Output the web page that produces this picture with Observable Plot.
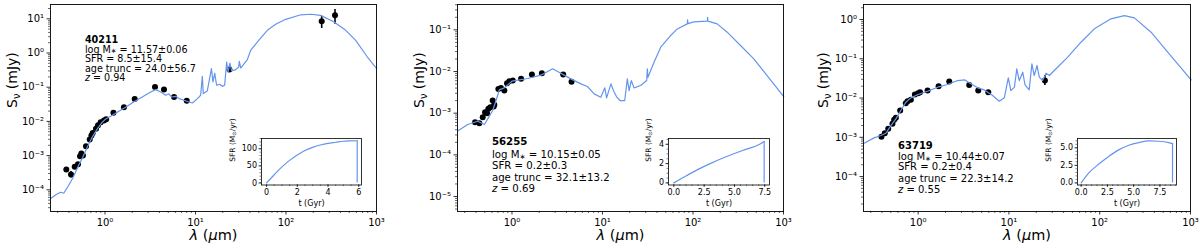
<!DOCTYPE html>
<html><head><meta charset="utf-8">
<script src="https://cdn.jsdelivr.net/npm/d3@7"></script>
<script src="https://cdn.jsdelivr.net/npm/@observablehq/plot@0.6"></script>
<style>
html,body{margin:0;padding:0;background:#fff;}
#wrap{position:relative;width:1200px;height:248px;overflow:hidden;font-family:"DejaVu Sans",sans-serif;}
#wrap svg{position:absolute;overflow:visible;}
</style></head><body><div id="wrap"></div>
<script>
// ---------------- DATA ----------------
// Panel 1 : source 40211  (model SED: wavelength [um], flux [mJy])
const p1ModelLam  = [0.251,0.292,0.324,0.350,0.387,0.440,0.499,0.568,0.644,0.731,0.830,0.920,1.0,1.156,1.38,1.69,2.07,2.55,3.20,3.63,4.13,4.69,5.06,5.46,6.04,6.58,7.46,8.47,9.25,10.5,11.4,11.9,12.2,13.5,15.0,15.6,16.3,17.1,18.5,19.8,21.0,22.1,22.9,24.0,25.1,27.8,30.0,30.5,31.6,37.4,40.7,49.9,62.2,76.9,99.3,146,187,242,340,457,589,793,1005];
const p1ModelFlux = [5.53e-5,7.41e-5,8.51e-5,7.94e-5,1.21e-4,2.17e-4,4.55e-4,8.91e-4,1.87e-3,3.66e-3,6.28e-3,9.10e-3,1.13e-2,1.41e-2,1.88e-2,2.58e-2,3.69e-2,5.07e-2,7.24e-2,8.51e-2,7.24e-2,5.79e-2,6.41e-2,5.16e-2,5.42e-2,4.65e-2,4.14e-2,3.69e-2,3.45e-2,4.65e-2,5.8e-2,0.208,6.5e-2,7.74e-2,0.35,0.142,0.26,0.114,0.122,0.106,0.114,0.546,0.278,0.51,0.298,0.327,0.39,0.571,0.364,0.641,1.2,2.35,4.61,6.90,9.66,13.1,13.6,12.6,8.05,4.61,2.35,0.764,0.35];
const p1ObsLam  = [0.374,0.421,0.463,0.503,0.530,0.548,0.571,0.617,0.678,0.708,0.731,0.796,0.838,0.896,0.975,1.03,1.24,1.62,2.13,3.57,4.49,5.8,8.0,23.7,248,348];
const p1ObsFlux = [3.9e-4,2.8e-4,4.7e-4,5.6e-4,9.5e-4,1.15e-3,1.0e-3,1.87e-3,2.94e-3,3.9e-3,4.6e-3,6.1e-3,7.7e-3,9.4e-3,1.07e-2,1.15e-2,1.8e-2,2.6e-2,4.5e-2,0.101,0.085,0.052,0.04,0.33,8.45,12.6];
const p1ErrLam = [0.421,248,348];
const p1ErrLo  = [2.2e-4,5.2,6.9];
const p1ErrHi  = [3.4e-4,11.8,18.6];
const p1Info = ["40211","log M* = 11.57±0.06","SFR = 8.5±15.4","age trunc = 24.0±56.7","z = 0.94"];
const p1Ticks = [1e-4,1e-3,1e-2,1e-1,1,10];

// Panel 2 : source 56255
const p2ModelLam  = [0.256,0.324,0.418,0.495,0.548,0.612,0.667,0.724,0.822,1.0,1.49,2.09,2.81,3.47,4.47,5.77,6.82,8.09,9.57,10.6,11.1,12.4,13.2,14.4,15.6,17.6,18.8,19.7,20.8,22.3,26.4,30.8,31.3,31.8,37.1,44.0,56.6,67.1,86.5,87.1,88.1,102,144,145,146,185,239,335,470,659,1007];
const p2ModelFlux = [3.83e-4,5.33e-4,6.41e-4,5.33e-4,7.71e-4,1.16e-3,2.01e-3,3.62e-3,4.05e-3,5.85e-3,6.78e-3,8.15e-3,1.16e-2,9.1e-3,6.65e-3,5.05e-3,4.36e-3,2.9e-3,2.42e-3,4.05e-3,2.33e-3,5.05e-3,3.49e-3,2.42e-3,2.01e-3,2.01e-3,6.65e-3,3.49e-3,6.07e-3,4.05e-3,4.6e-3,6.07e-3,1.16e-2,7.3e-3,1.67e-2,3.83e-2,7.29e-2,0.105,0.139,0.174,0.141,0.155,0.161,0.2,0.161,0.139,8.77e-2,4.2e-2,2.01e-2,8.0e-3,2.51e-3];
const p2ObsLam  = [0.391,0.436,0.475,0.504,0.530,0.548,0.577,0.628,0.612,0.638,0.707,0.756,0.823,0.881,0.935,1.02,1.26,1.66,2.14,3.68,4.55];
const p2ObsFlux = [6.07e-4,5.7e-4,8.0e-4,1.05e-3,1.0e-3,1.27e-3,1.39e-3,1.44e-3,2.0e-3,1.6e-3,3.8e-3,4.0e-3,3.5e-3,5.2e-3,5.8e-3,6.1e-3,6.7e-3,8.5e-3,9.1e-3,8.5e-3,5.7e-3];
const p2ErrLam = [];
const p2ErrLo  = [];
const p2ErrHi  = [];
const p2Info = ["56255","log M* = 10.15±0.05","SFR = 0.2±0.3","age trunc = 32.1±13.2","z = 0.69"];
const p2Ticks = [1e-5,1e-4,1e-3,1e-2,1e-1];

// Panel 3 : source 63719
const p3ModelLam  = [0.254,0.327,0.388,0.441,0.5,0.568,0.644,0.731,0.832,1.0,1.27,1.64,2.11,2.72,3.27,3.81,4.52,5.35,6.61,7.82,8.89,9.84,10.5,11.5,12.2,13.0,14.2,15.0,16.7,17.9,19.0,20.4,21.6,23.5,25.6,27.9,31.6,44.4,62.2,87.3,133,187,241,368,561,1016];
const p3ModelFlux = [7.06e-4,9.66e-4,1.11e-3,1.27e-3,1.99e-3,2.94e-3,4.81e-3,7.83e-3,1.01e-2,1.23e-2,1.49e-2,1.89e-2,2.21e-2,2.79e-2,2.9e-2,2.3e-2,1.82e-2,1.61e-2,1.16e-2,8.3e-3,1.01e-2,3.27e-2,1.55e-2,1.89e-2,5.53e-2,2.79e-2,4.55e-2,2.21e-2,1.61e-2,7.41e-2,3.74e-2,6.73e-2,3.4e-2,2.79e-2,4.3e-2,3.74e-2,5.02e-2,0.11,0.264,0.578,1.04,1.26,1.10,0.475,0.147,2.9e-2];
const p3ObsLam  = [0.394,0.429,0.468,0.521,0.544,0.568,0.634,0.731,0.764,0.831,0.920,1.0,1.05,1.27,1.68,2.2,3.65,4.59,5.92,24.9];
const p3ObsFlux = [1.04e-3,1.27e-3,1.64e-3,2.2e-3,2.78e-3,3.13e-3,4.8e-3,7.4e-3,8.3e-3,9.0e-3,1.23e-2,1.33e-2,1.41e-2,1.55e-2,2.0e-2,2.63e-2,2.16e-2,1.55e-2,1.41e-2,2.79e-2];
const p3ErrLam = [24.9];
const p3ErrLo  = [2.09e-2];
const p3ErrHi  = [3.74e-2];
const p3Info = ["63719","log M* = 10.44±0.07","SFR = 0.2±0.4","age trunc = 22.3±14.2","z = 0.55"];
const p3Ticks = [1e-4,1e-3,1e-2,1e-1,1];

const xTicks = [1,10,100,1000];

// Insets: star-formation histories (t [Gyr], SFR [Msun/yr])
const sfh1T   = [0,0.5,1,1.5,2,2.5,3,3.5,4,4.5,5,5.5,5.9];
const sfh1SFR = [0,24,47,66,82,95,104,111,116,119,122,123,123.5];
const sfh1XTicks = [0,2,4,6];
const sfh1YTicks = [0,50,100];
const sfh2T   = [0,1,2,3,4,5,6,7,7.45];
const sfh2SFR = [0,0.72,1.4,2.0,2.55,3.05,3.5,3.95,4.3];
const sfh2XTicks = [0,2.5,5,7.5];
const sfh2YTicks = [0,2,4];
const sfh3T   = [0,0.73,1.68,2.63,3.58,4.54,5.49,6.44,7.39,8.35,8.7];
const sfh3SFR = [0,1.42,2.69,3.77,4.71,5.37,5.75,5.98,5.94,5.75,5.61];
const sfh3XTicks = [0,2.5,5,7.5];
const sfh3YTicks = [0,2.5,5];

// ---------------- RENDER ----------------
const BLUE = "#6495ed";
const FONT = "'DejaVu Sans', sans-serif";
const SUP = {"-":"⁻","0":"⁰","1":"¹","2":"²","3":"³","4":"⁴","5":"⁵","6":"⁶","7":"⁷","8":"⁸","9":"⁹"};
const pow10 = d => "10" + String(Math.round(Math.log10(d))).split("").map(c => SUP[c]).join("");
const wrap = document.getElementById("wrap");

function logMinor(lo, hi) {
  const out = [];
  for (let k = Math.floor(Math.log10(lo)); k <= Math.ceil(Math.log10(hi)); k++)
    for (let m = 2; m <= 9; m++) { const v = m * Math.pow(10, k); if (v >= lo && v <= hi) out.push(v); }
  return out;
}
function linMinor(lo, hi, step) {
  const out = [];
  for (let v = Math.ceil(lo / step) * step; v <= hi + 1e-9; v += step) out.push(+v.toFixed(6));
  return out;
}

function rich(svg) {
  d3.select(svg).selectAll("text").each(function () {
    if (this.querySelector("tspan")) return;
    const t = this.textContent;
    let parts = null, sh = 0.3;
    if (t.startsWith("log M* ")) { parts = [["log M"], ["∗", "sub"], [t.slice(6)]]; sh = 0.12; }
    else if (t.startsWith("z = ")) parts = [["z", "it"], [t.slice(1)]];
    else if (t === "Sν (mJy)") parts = [["S"], ["ν", "sub"], [" (mJy)"]];
    else if (t === "λ (μm)") parts = [["λ", "it"], [" ("], ["μ", "it"], ["m)"]];
    else if (t === "SFR (M⊙/yr)") parts = [["SFR (M"], ["⊙", "sub"], ["/yr)"]];
    if (!parts) return;
    this.textContent = "";
    let prevSub = false;
    for (const [s, k] of parts) {
      const ts = d3.select(this).append("tspan").text(s);
      if (k === "sub") { ts.attr("font-size", "70%").attr("dy", sh + "em"); prevSub = true; }
      else {
        if (prevSub) ts.attr("dy", (-sh * 0.7).toFixed(3) + "em");
        prevSub = false;
        if (k === "it") ts.attr("font-style", "italic");
      }
    }
  });
}

function mainPanel(cfg) {
  const [ylo, yhi] = cfg.yDomain;
  const xDom = [0.25, 1000];
  const svg = Plot.plot({
    width: 400, height: 248,
    marginLeft: cfg.ml, marginRight: cfg.mr, marginTop: 4, marginBottom: 37,
    style: {fontFamily: FONT, fontSize: "10px", background: "transparent", color: "#000"},
    x: {type: "log", domain: xDom, label: null},
    y: {type: "log", domain: cfg.yDomain, label: null},
    marks: [
      Plot.axisX(xTicks, {tickSize: 3.5, tickPadding: 4, tickFormat: pow10, fontSize: 10, label: null, stroke: "#000", strokeWidth: 0.8}),
      Plot.axisX(logMinor(xDom[0], xDom[1]), {tickSize: 2, tickFormat: () => "", label: null, stroke: "#000", strokeWidth: 0.6}),
      Plot.axisY(cfg.yTicks, {tickSize: 3.5, tickPadding: 3, tickFormat: pow10, fontSize: 10, label: null, stroke: "#000", strokeWidth: 0.8}),
      Plot.axisY(logMinor(ylo, yhi), {tickSize: 2, tickFormat: () => "", label: null, stroke: "#000", strokeWidth: 0.6}),
      Plot.ruleX(cfg.errLam, {x: cfg.errLam, y1: cfg.errLo, y2: cfg.errHi, stroke: "#000", strokeWidth: 1.6}),
      Plot.dot(cfg.obsLam, {x: cfg.obsLam, y: cfg.obsFlux, r: 3, fill: "#000", stroke: "none"}),
      Plot.line(cfg.lam, {x: cfg.lam, y: cfg.flux, stroke: BLUE, strokeWidth: 1.2}),
      Plot.frame({stroke: "#000", strokeWidth: 0.9}),
      Plot.text([cfg.info[0]], {x: cfg.annX, y: [cfg.annY[0]], textAnchor: "start", fontWeight: "bold", fontSize: cfg.annSize, fill: "#000"}),
      Plot.text(cfg.info.slice(1), {x: cfg.annX, y: cfg.annY.slice(1), textAnchor: "start", fontSize: cfg.annSize, fill: "#000"}),
      Plot.text(["Sν (mJy)"], {frameAnchor: "left", dx: cfg.ylabDx, rotate: -90, fontSize: 14, fill: "#000"}),
      Plot.text(["λ (μm)"], {frameAnchor: "bottom", dy: 28, fontSize: 14.5, fill: "#000"})
    ]
  });
  svg.style.left = cfg.left + "px";
  svg.style.top = "0px";
  rich(svg);
  wrap.appendChild(svg);
}

function inset(cfg) {
  const W = cfg.fw, H = 46.5, ml = 40, mt = 4, mr = 6, mb = 28;
  const svg = Plot.plot({
    width: ml + W + mr, height: mt + H + mb,
    marginLeft: ml, marginRight: mr, marginTop: mt, marginBottom: mb,
    style: {fontFamily: FONT, fontSize: "8px", background: "transparent", color: "#000"},
    x: {domain: cfg.xDomain, label: null},
    y: {domain: cfg.yDomain, label: null},
    marks: [
      Plot.frame({fill: "#fff", stroke: "none"}),
      Plot.axisX(cfg.xTicks, {tickSize: 2.5, tickPadding: 2, tickFormat: cfg.xFmt, fontSize: 8, label: null, stroke: "#000", strokeWidth: 0.7}),
      Plot.axisX(linMinor(cfg.xDomain[0], cfg.xDomain[1], cfg.xMinor), {tickSize: 1.5, tickFormat: () => "", label: null, stroke: "#000", strokeWidth: 0.5}),
      Plot.axisY(cfg.yTicks, {tickSize: 2.5, tickPadding: 2, tickFormat: cfg.yFmt, fontSize: 8, label: null, stroke: "#000", strokeWidth: 0.7}),
      Plot.axisY(linMinor(cfg.yDomain[0], cfg.yDomain[1], cfg.yMinor), {tickSize: 1.5, tickFormat: () => "", label: null, stroke: "#000", strokeWidth: 0.5}),
      Plot.line(cfg.t, {x: cfg.t, y: cfg.sfr, stroke: BLUE, strokeWidth: 1.2, curve: "monotone-x"}),
      Plot.ruleX(cfg.t.slice(-1), {x: cfg.t.slice(-1), y1: 0, y2: cfg.sfr.slice(-1), stroke: BLUE, strokeWidth: 1.2}),
      Plot.frame({stroke: "#000", strokeWidth: 0.8}),
      Plot.text(["SFR (M⊙/yr)"], {frameAnchor: "left", dx: cfg.ylabDx, rotate: -90, fontSize: 7.5, fill: "#000"}),
      Plot.text(["t (Gyr)"], {frameAnchor: "bottom", dy: 20.5, fontSize: 8, fill: "#000"})
    ]
  });
  svg.style.left = (cfg.fx - ml) + "px";
  svg.style.top = (cfg.fy - mt) + "px";
  rich(svg);
  wrap.appendChild(svg);
}

mainPanel({left: 0, ml: 50, mr: 24, ylabDx: -38,
  yDomain: [2.32e-5, 26.2], yTicks: p1Ticks,
  lam: p1ModelLam, flux: p1ModelFlux, obsLam: p1ObsLam, obsFlux: p1ObsFlux,
  errLam: p1ErrLam, errLo: p1ErrLo, errHi: p1ErrHi, annSize: 9.6,
  info: p1Info, annX: 0.6, annY: [2.47, 1.26, 0.668, 0.35, 0.191]});
mainPanel({left: 400, ml: 57, mr: 17, ylabDx: -38,
  yDomain: [4.37e-6, 0.405], yTicks: p2Ticks,
  lam: p2ModelLam, flux: p2ModelFlux, obsLam: p2ObsLam, obsFlux: p2ObsFlux,
  errLam: p2ErrLam, errLo: p2ErrLo, errHi: p2ErrHi, annSize: 10.2,
  info: p2Info, annX: 0.6, annY: [2.01e-4, 1.02e-4, 5.33e-5, 2.81e-5, 1.53e-5]});
mainPanel({left: 800, ml: 63, mr: 10, ylabDx: -40,
  yDomain: [1.29e-5, 2.41], yTicks: p3Ticks,
  lam: p3ModelLam, flux: p3ModelFlux, obsLam: p3ObsLam, obsFlux: p3ObsFlux,
  errLam: p3ErrLam, errLo: p3ErrLo, errHi: p3ErrHi, annSize: 10,
  info: p3Info, annX: 0.6, annY: [5.91e-4, 3.24e-4, 1.73e-4, 8.53e-5, 4.58e-5]});

const fmt0 = d => String(d);
const fmt1 = d => d.toFixed(1);
inset({fx: 261, fy: 138, fw: 100, ylabDx: -29, t: sfh1T, sfr: sfh1SFR,
  xDomain: [-0.33, 6.18], yDomain: [-6, 130], xTicks: sfh1XTicks, yTicks: sfh1YTicks,
  xFmt: fmt0, yFmt: fmt0, xMinor: 0.5, yMinor: 10});
inset({fx: 668, fy: 138, fw: 101, ylabDx: -20, t: sfh2T, sfr: sfh2SFR,
  xDomain: [-0.44, 7.89], yDomain: [-0.22, 4.6], xTicks: sfh2XTicks, yTicks: sfh2YTicks,
  xFmt: fmt1, yFmt: fmt0, xMinor: 0.5, yMinor: 0.5});
inset({fx: 1077, fy: 138, fw: 99, ylabDx: -29, t: sfh3T, sfr: sfh3SFR,
  xDomain: [-0.35, 9.08], yDomain: [-0.3, 6.33], xTicks: sfh3XTicks, yTicks: sfh3YTicks,
  xFmt: fmt1, yFmt: fmt1, xMinor: 0.5, yMinor: 0.5});
</script></body></html>
